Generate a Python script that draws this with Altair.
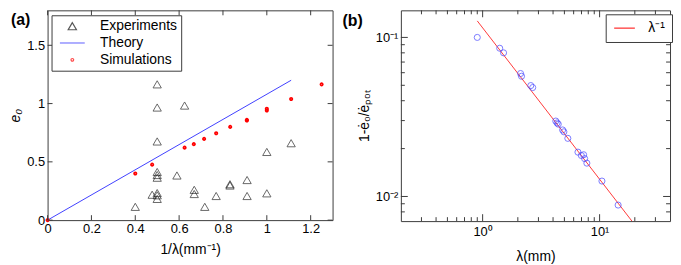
import altair as alt
import pandas as pd

FONT = "Liberation Sans, Arial, sans-serif"
FRAME = "#3c3c3c"

# ---------------- panel (a) data ----------------
EXP_X = [0.5, 0.5, 0.625, 0.5, 0.5, 0.5, 0.5, 0.59, 0.5, 0.5, 0.5, 0.477, 0.4,
         0.669, 0.669, 0.717, 0.769, 0.832, 0.832, 0.91, 0.91, 1.0, 1.0, 1.111]
EXP_Y = [1.165, 0.966, 0.983, 0.675, 0.413, 0.387, 0.364, 0.383, 0.232, 0.213, 0.182, 0.218, 0.114,
         0.26, 0.224, 0.114, 0.207, 0.308, 0.297, 0.344, 0.207, 0.585, 0.23, 0.66]
SIM_X = [0.0, 0.4, 0.477, 0.625, 0.667, 0.714, 0.769, 0.833, 0.909, 0.909, 1.0, 1.0, 1.111, 1.25]
SIM_Y = [0.0, 0.40, 0.476, 0.622, 0.652, 0.697, 0.745, 0.80, 0.86, 0.855, 0.955, 0.941, 1.039, 1.165]
THEORY_X = [0.0, 1.111]
THEORY_Y = [0.0, 1.2]
SERIES_A = ["Experiments", "Theory", "Simulations"]
A_XTICKS = [0, 0.2, 0.4, 0.6, 0.8, 1.0, 1.2]
A_YTICKS = [0, 0.5, 1.0, 1.5]

# ---------------- panel (b) data ----------------
LAM = [0.9, 1.40, 1.51, 2.11, 2.15, 2.58, 2.68, 4.22, 4.33, 4.43, 4.83, 4.95, 5.35,
       6.53, 6.98, 7.30, 7.45, 7.78, 10.47, 14.4]
RES = [0.100, 0.0855, 0.080, 0.0593, 0.057, 0.0498, 0.0484, 0.0298, 0.029, 0.0285, 0.0262, 0.0255, 0.0232,
       0.019, 0.0181, 0.0183, 0.0173, 0.0162, 0.0125, 0.00883]
FIT_X = [0.9, 18.9]
FIT_Y = [0.127, 0.0070]
FIT_LABEL = ["λ⁻¹"]
B_XMAJOR = [1, 10]
B_XMINOR = [0.3, 0.4, 0.5, 0.6, 0.7, 0.8, 0.9, 2, 3, 4, 5, 6, 7, 8, 9, 20, 30]
B_YMAJOR = [0.01, 0.1]
B_YMINOR = [0.008, 0.009, 0.02, 0.03, 0.04, 0.05, 0.06, 0.07, 0.08, 0.09]

WA, HA = 288, 212
WB, HB = 272, 213

# ---------------- panel (a) ----------------
xs_a = alt.Scale(domain=[0, 1.3], nice=False, zero=False)
ys_a = alt.Scale(domain=[0, 1.8], nice=False, zero=False)
xa = alt.X("x:Q", scale=xs_a, title="1/λ(mm⁻¹)",
           axis=alt.Axis(values=A_XTICKS, format="~g", labelPadding=3, titlePadding=7))
ya = alt.Y("y:Q", scale=ys_a, title="e₀",
           axis=alt.Axis(values=A_YTICKS, format="~g", labelPadding=3, titlePadding=4,
                         titleFontStyle="italic"))

DOT = "M-0.32,0A0.32,0.32 0 1,0 0.32,0A0.32,0.32 0 1,0 -0.32,0Z"
col_a = alt.Scale(domain=SERIES_A, range=["#111111", "#4040ff", "#ff0000"])
shp_a = alt.Scale(domain=SERIES_A, range=["triangle-up", "M-3,0H3", DOT])
leg_a = alt.Legend(title=None, orient="none", legendX=4, legendY=5, padding=4,
                   strokeColor=FRAME, fillColor="white", labelFontSize=14,
                   symbolOffset=10, labelOffset=21,
                   rowPadding=3, symbolStrokeWidth=1.2, symbolSize=70,
                   symbolFillColor="transparent", labelFont=FONT, labelColor="black",
                   labelLimit=300, cornerRadius=0)

exp_df = pd.DataFrame({"x": EXP_X, "y": EXP_Y, "s": "Experiments"})
sim_df = pd.DataFrame({"x": SIM_X, "y": SIM_Y, "s": "Simulations"})
th_df = pd.DataFrame({"x": THEORY_X, "y": THEORY_Y, "s": "Theory"})

exp_l = alt.Chart(exp_df).mark_point(filled=False, strokeWidth=0.9, size=70).encode(
    x=xa, y=ya,
    color=alt.Color("s:N", scale=col_a, legend=leg_a),
    shape=alt.Shape("s:N", scale=shp_a, legend=leg_a))
th_l = alt.Chart(th_df).mark_line(strokeWidth=1).encode(
    x=xa, y=ya, color=alt.Color("s:N", scale=col_a, legend=leg_a))
sim_l = alt.Chart(sim_df).mark_point(filled=False, shape="circle", size=3, strokeWidth=2.4,
                                     opacity=1).encode(
    x=xa, y=ya, color=alt.Color("s:N", scale=col_a, legend=leg_a))

axt = pd.DataFrame({"x": A_XTICKS})
ayt = pd.DataFrame({"y": A_YTICKS})
tk = dict(color=FRAME, strokeWidth=1)
ta = [
    alt.Chart(axt).mark_rule(**tk).encode(x=xa, y=alt.value(HA), y2=alt.value(HA - 5)),
    alt.Chart(axt).mark_rule(**tk).encode(x=xa, y=alt.value(0), y2=alt.value(5)),
    alt.Chart(ayt).mark_rule(**tk).encode(y=ya, x=alt.value(0), x2=alt.value(5)),
    alt.Chart(ayt).mark_rule(**tk).encode(y=ya, x=alt.value(WA), x2=alt.value(WA - 5)),
]
lab_a = alt.Chart(pd.DataFrame({"t": ["(a)"]})).mark_text(
    align="left", baseline="top", fontSize=16, fontWeight="bold", font=FONT, color="black"
).encode(text="t:N", x=alt.value(-37), y=alt.value(2))

pa = alt.layer(exp_l, th_l, sim_l, *ta, lab_a).properties(width=WA, height=HA)

# ---------------- panel (b) ----------------
xs_b = alt.Scale(type="log", domain=[0.2, 40], nice=False)
ys_b = alt.Scale(type="log", domain=[0.007, 0.148], nice=False)
sup = "'10' + (datum.value < 1 ? '⁻' : '') + ['⁰','¹','²','³'][abs(round(log(datum.value)/LN10))]"
xb = alt.X("x:Q", scale=xs_b, title="λ(mm)",
           axis=alt.Axis(values=B_XMAJOR, labelExpr=sup, labelPadding=5, titlePadding=11))
yb = alt.Y("y:Q", scale=ys_b, title="1-ė₀/ėₚₒₜ",
           axis=alt.Axis(values=B_YMAJOR, labelExpr=sup, labelPadding=3, titlePadding=4))

pts_df = pd.DataFrame({"x": LAM, "y": RES})
fit_df = pd.DataFrame({"x": FIT_X, "y": FIT_Y, "s": FIT_LABEL * len(FIT_X)})

leg_b = alt.Legend(title=None, orient="none", legendX=207, legendY=4, padding=7,
                   strokeColor=FRAME, fillColor="white", labelFontSize=14,
                   symbolOffset=5, labelOffset=17,
                   symbolType="M-2.5,0H2.5", symbolSize=70, symbolStrokeWidth=1.3,
                   labelFont=FONT, labelColor="black", cornerRadius=0)
fit_l = alt.Chart(fit_df).mark_line(strokeWidth=1).encode(
    x=xb, y=yb,
    color=alt.Color("s:N", scale=alt.Scale(domain=FIT_LABEL, range=["#ff3a3a"]), legend=leg_b))
pts_l = alt.Chart(pts_df).mark_point(shape="circle", filled=False, size=38, strokeWidth=1,
                                     color="#4646ff").encode(x=xb, y=yb)

bxM = pd.DataFrame({"x": B_XMAJOR})
bxm = pd.DataFrame({"x": B_XMINOR})
byM = pd.DataFrame({"y": B_YMAJOR})
bym = pd.DataFrame({"y": B_YMINOR})
tb = [
    alt.Chart(bxM).mark_rule(**tk).encode(x=xb, y=alt.value(HB), y2=alt.value(HB - 7)),
    alt.Chart(bxM).mark_rule(**tk).encode(x=xb, y=alt.value(0), y2=alt.value(7)),
    alt.Chart(bxm).mark_rule(**tk).encode(x=xb, y=alt.value(HB), y2=alt.value(HB - 4)),
    alt.Chart(bxm).mark_rule(**tk).encode(x=xb, y=alt.value(0), y2=alt.value(4)),
    alt.Chart(byM).mark_rule(**tk).encode(y=yb, x=alt.value(0), x2=alt.value(7)),
    alt.Chart(byM).mark_rule(**tk).encode(y=yb, x=alt.value(WB), x2=alt.value(WB - 7)),
    alt.Chart(bym).mark_rule(**tk).encode(y=yb, x=alt.value(0), x2=alt.value(4)),
    alt.Chart(bym).mark_rule(**tk).encode(y=yb, x=alt.value(WB), x2=alt.value(WB - 4)),
]
lab_b = alt.Chart(pd.DataFrame({"t": ["(b)"]})).mark_text(
    align="left", baseline="top", fontSize=16, fontWeight="bold", font=FONT, color="black"
).encode(text="t:N", x=alt.value(-59), y=alt.value(3))

pb = alt.layer(fit_l, pts_l, *tb, lab_b).properties(width=WB, height=HB)

chart = alt.hconcat(pa, pb, spacing=69, bounds="flush").resolve_scale(
    color="independent", shape="independent"
).properties(padding=0, background="white").configure_view(
    stroke=FRAME, strokeWidth=1
).configure_axis(
    labelFont=FONT, labelFontSize=13, labelColor="black",
    titleFont=FONT, titleFontSize=14, titleColor="black", titleFontWeight="normal",
    ticks=False, tickSize=0, domain=False, grid=False, labelFlush=False
)

chart.save("out.html", embed_options={"renderer": "svg", "actions": False})
